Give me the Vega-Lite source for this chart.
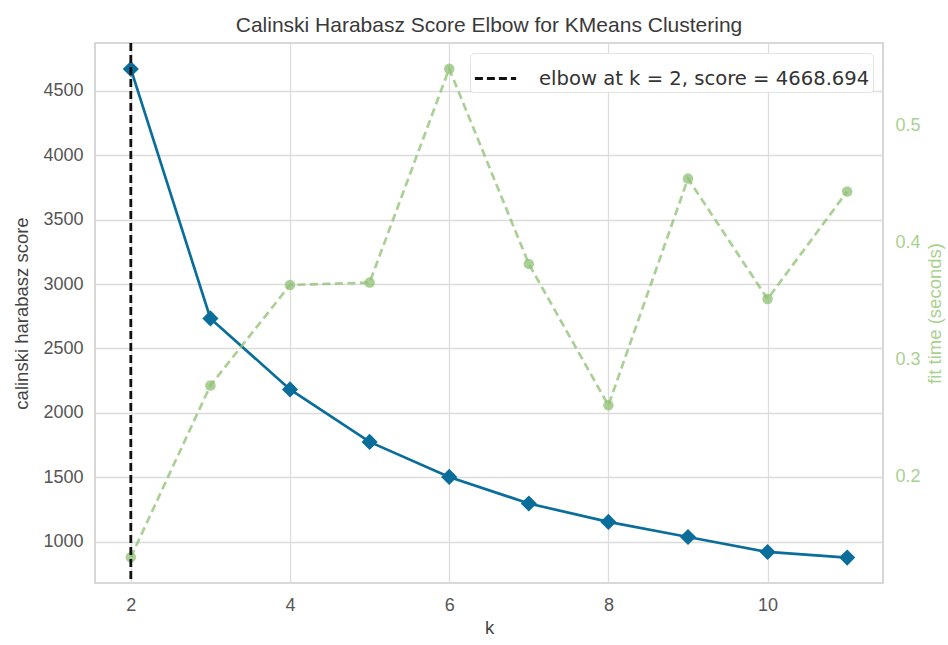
{
  "$schema": "https://vega.github.io/schema/vega-lite/v6.json",
  "width": 788,
  "height": 540,
  "autosize": {"type": "none"},
  "padding": {"left": 95, "top": 43, "right": 65, "bottom": 62},
  "background": "white",
  "title": {
    "text": "Calinski Harabasz Score Elbow for KMeans Clustering",
    "font": "Liberation Sans",
    "fontSize": 21,
    "fontWeight": "normal",
    "color": "#3a3a3a",
    "anchor": "middle",
    "offset": 6
  },
  "datasets": {
    "scores": [
      {"k": 2, "score": 4668.694, "fit_time": 0.131},
      {"k": 3, "score": 2733, "fit_time": 0.278},
      {"k": 4, "score": 2182, "fit_time": 0.364},
      {"k": 5, "score": 1775, "fit_time": 0.366},
      {"k": 6, "score": 1503, "fit_time": 0.549},
      {"k": 7, "score": 1297, "fit_time": 0.382},
      {"k": 8, "score": 1154, "fit_time": 0.261},
      {"k": 9, "score": 1037, "fit_time": 0.455},
      {"k": 10, "score": 921, "fit_time": 0.352},
      {"k": 11, "score": 877, "fit_time": 0.444}
    ],
    "elbow": [
      {"k": 2, "score": 4668.694, "label": "elbow at k = 2, score = 4668.694"}
    ]
  },
  "layer": [
    {
      "data": {"name": "scores"},
      "mark": {
        "type": "line",
        "color": "#0a6d9a",
        "strokeWidth": 2.7,
        "point": {"shape": "diamond", "size": 260, "filled": true, "color": "#0a6d9a", "opacity": 1}
      },
      "encoding": {
        "x": {
          "field": "k",
          "type": "quantitative",
          "scale": {"domain": [1.55, 11.45], "nice": false, "zero": false},
          "axis": {"title": "k", "values": [2, 4, 6, 8, 10], "format": "d", "labelPadding": 13, "titlePadding": 4}
        },
        "y": {
          "field": "score",
          "type": "quantitative",
          "scale": {"domain": [680, 4870], "nice": false, "zero": false},
          "axis": {
            "title": "calinski harabasz score",
            "values": [1000, 1500, 2000, 2500, 3000, 3500, 4000, 4500],
            "format": "d",
            "labelPadding": 12,
            "titlePadding": 11
          }
        }
      }
    },
    {
      "data": {"name": "scores"},
      "mark": {
        "type": "line",
        "color": "#8fc073",
        "strokeWidth": 2.7,
        "strokeDash": [8, 4.5],
        "opacity": 0.75,
        "point": {"shape": "circle", "size": 110, "filled": true, "color": "#8fc073", "opacity": 0.75}
      },
      "encoding": {
        "x": {"field": "k", "type": "quantitative"},
        "y": {
          "field": "fit_time",
          "type": "quantitative",
          "scale": {"domain": [0.109, 0.571], "nice": false, "zero": false},
          "axis": {
            "orient": "right",
            "title": "fit time (seconds)",
            "values": [0.2, 0.3, 0.4, 0.5],
            "format": ".1f",
            "grid": false,
            "labelColor": "#a9d18e",
            "titleColor": "#a9d18e",
            "labelPadding": 12,
            "titlePadding": 5,
            "titleAngle": 270,
            "titleBaseline": "top"
          }
        }
      }
    },
    {
      "data": {"name": "elbow"},
      "mark": {"type": "rule", "strokeWidth": 2.8, "strokeDash": [8, 4]},
      "encoding": {
        "x": {"field": "k", "type": "quantitative"},
        "color": {
          "field": "label",
          "type": "nominal",
          "scale": {"range": ["#111111"]},
          "legend": {"title": null}
        }
      }
    }
  ],
  "resolve": {"scale": {"y": "independent"}},
  "config": {
    "view": {"stroke": "#cccccc", "strokeWidth": 1.6},
    "axis": {
      "domain": false,
      "ticks": false,
      "labelFont": "Liberation Sans",
      "labelFontSize": 18,
      "labelColor": "#555555",
      "titleFont": "Liberation Sans",
      "titleFontSize": 18.5,
      "titleFontWeight": "normal",
      "titleColor": "#444444",
      "gridColor": "#dcdcdc",
      "gridWidth": 1.3
    },
    "legend": {
      "orient": "top-right",
      "offset": 10,
      "fillColor": "white",
      "strokeColor": "#e3e3e3",
      "cornerRadius": 4,
      "padding": 3,
      "labelFont": "DejaVu Sans",
      "labelFontSize": 19.6,
      "labelColor": "#333333",
      "labelLimit": 500,
      "symbolType": "stroke",
      "symbolSize": 1700,
      "symbolStrokeWidth": 2.8,
      "symbolDash": [8, 4],
      "labelOffset": 21
    }
  }
}
